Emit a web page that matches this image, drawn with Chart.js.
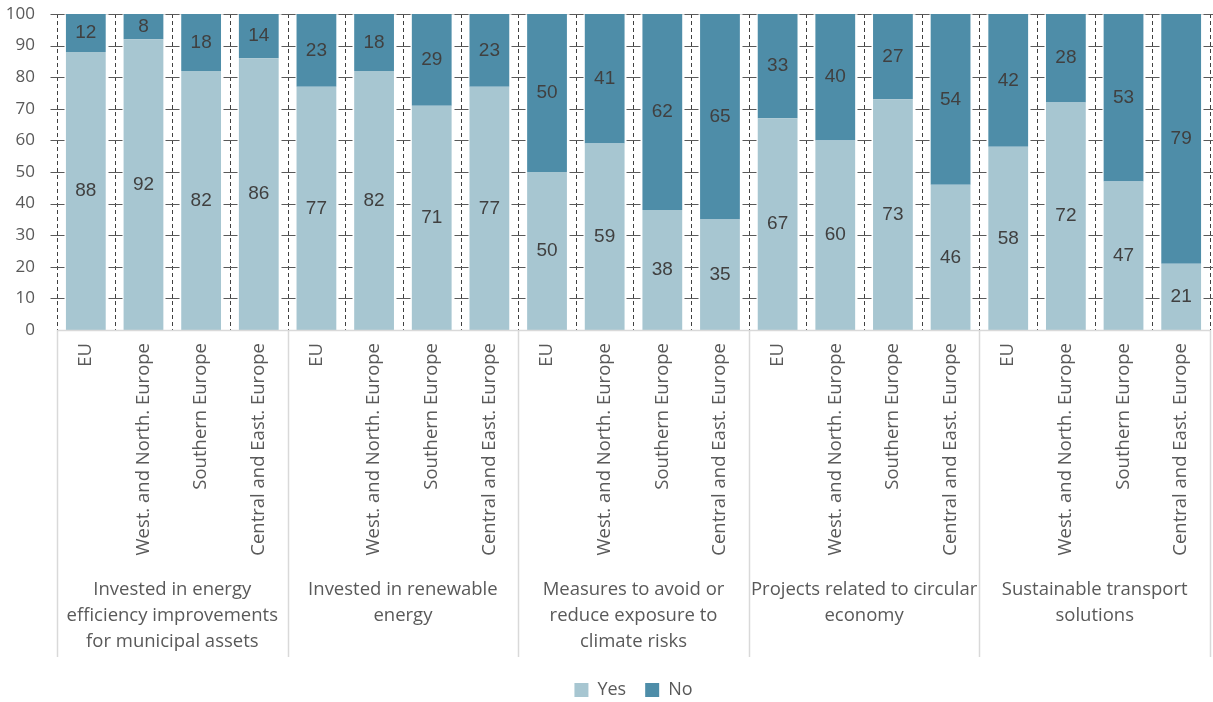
<!DOCTYPE html>
<html lang="en">
<head>
  <meta charset="UTF-8" />
  <title>Municipal climate investments</title>
  <script src="https://cdn.jsdelivr.net/npm/chart.js"></script>
  <style>
    body {
      margin: 0;
      background: #ffffff;
    }

    .wrap {
      width: 1213px;
      height: 702px;
      position: relative;
    }
  </style>
</head>
<body>

<div class="wrap">
  <canvas id="investChart"></canvas>
</div>

<script>
  const groups = [
    ['Invested in energy', 'efficiency improvements', 'for municipal assets'],
    ['Invested in renewable', 'energy'],
    ['Measures to avoid or', 'reduce exposure to', 'climate risks'],
    ['Projects related to circular', 'economy'],
    ['Sustainable transport', 'solutions']
  ];
  const regions = ['EU', 'West. and North. Europe', 'Southern Europe', 'Central and East. Europe'];

  const yesValues = [88, 92, 82, 86, 77, 82, 71, 77, 50, 59, 38, 35, 67, 60, 73, 46, 58, 72, 47, 21];
  const noValues = [12, 8, 18, 14, 23, 18, 29, 23, 50, 41, 62, 65, 33, 40, 27, 54, 42, 28, 53, 79];

  const yTicks = [0, 10, 20, 30, 40, 50, 60, 70, 80, 90, 100];

  const labels = groups.flatMap(() => regions);

  const textColor = '#595959';
  const labelFont = '"Open Sans", sans-serif';
  const groupBandHeight = 327;

  // dashed separators between columns, with short ticks at each y step
  const columnGrid = {
    id: 'columnGrid',
    beforeDatasetsDraw(chart) {
      const { ctx, chartArea, scales: { x, y } } = chart;
      const step = x.getPixelForValue(1) - x.getPixelForValue(0);
      ctx.save();
      ctx.lineWidth = 1;

      ctx.strokeStyle = '#d9d9d9';
      ctx.beginPath();
      ctx.moveTo(chartArea.left, chartArea.top + 0.5);
      ctx.lineTo(chartArea.right, chartArea.top + 0.5);
      ctx.stroke();

      for (let i = 0; i <= labels.length; i++) {
        const bx = Math.round(x.getPixelForValue(0) - step / 2 + i * step) + 0.5;
        ctx.strokeStyle = '#404040';
        ctx.setLineDash([4, 3]);
        ctx.beginPath();
        ctx.moveTo(bx, chartArea.top);
        ctx.lineTo(bx, chartArea.bottom);
        ctx.stroke();

        ctx.setLineDash([]);
        ctx.strokeStyle = '#595959';
        ctx.beginPath();
        yTicks.forEach(v => {
          if (v === 0) return;
          const py = Math.round(y.getPixelForValue(v)) + 0.5;
          ctx.moveTo(bx - 7, py);
          ctx.lineTo(bx + 7, py);
        });
        ctx.stroke();
      }
      ctx.restore();
    },
    afterDraw(chart) {
      const { ctx, chartArea, scales: { x } } = chart;
      const step = x.getPixelForValue(1) - x.getPixelForValue(0);
      const per = regions.length;
      const bandBottom = chartArea.bottom + groupBandHeight;
      ctx.save();

      // axis line and group separators
      ctx.strokeStyle = '#d9d9d9';
      ctx.lineWidth = 1.5;
      ctx.beginPath();
      ctx.moveTo(chartArea.left, chartArea.bottom + 0.5);
      ctx.lineTo(chartArea.right, chartArea.bottom + 0.5);
      for (let g = 0; g <= groups.length; g++) {
        const gx = Math.round(x.getPixelForValue(0) - step / 2 + g * per * step) + 0.5;
        ctx.moveTo(gx, chartArea.bottom);
        ctx.lineTo(gx, bandBottom);
      }
      ctx.stroke();

      // group names under the rotated region labels
      ctx.fillStyle = textColor;
      ctx.font = '18.5px ' + labelFont;
      ctx.textAlign = 'center';
      ctx.textBaseline = 'middle';
      groups.forEach((lines, g) => {
        const cx = (x.getPixelForValue(g * per) + x.getPixelForValue(g * per + per - 1)) / 2;
        lines.forEach((line, k) => {
          ctx.fillText(line, cx, chartArea.bottom + 260 + k * 26);
        });
      });

      // value labels centred in each segment
      ctx.fillStyle = '#404040';
      ctx.font = '19px "Liberation Sans", Arial, sans-serif';
      chart.data.datasets.forEach((ds, di) => {
        chart.getDatasetMeta(di).data.forEach((bar, i) => {
          const cy = (bar.y + bar.base) / 2;
          ctx.fillText(String(ds.data[i]), bar.x, cy);
        });
      });
      ctx.restore();
    }
  };

  const ctx = document.getElementById('investChart').getContext('2d');

  new Chart(ctx, {
    type: 'bar',
    data: {
      labels,
      datasets: [
        {
          label: 'Yes',
          data: yesValues,
          backgroundColor: '#a7c6d1',
          barPercentage: 0.69,
          categoryPercentage: 1
        },
        {
          label: 'No',
          data: noValues,
          backgroundColor: '#4e8da8',
          barPercentage: 0.69,
          categoryPercentage: 1
        }
      ]
    },
    options: {
      responsive: true,
      maintainAspectRatio: false,
      animation: false,
      layout: {
        padding: { top: 14, right: 3, left: 0, bottom: 0 }
      },
      plugins: {
        legend: {
          position: 'bottom',
          fullSize: false,
          maxHeight: 40,
          labels: {
            boxWidth: 14,
            boxHeight: 14,
            padding: 19,
            color: textColor,
            font: { family: labelFont, size: 18 }
          }
        },
        tooltip: { enabled: false }
      },
      scales: {
        x: {
          stacked: true,
          grid: { display: false, drawTicks: false },
          border: { display: false },
          ticks: {
            autoSkip: false,
            minRotation: 90,
            maxRotation: 90,
            padding: 13,
            color: textColor,
            font: { family: labelFont, size: 18.5 }
          },
          afterFit(scale) {
            scale.height = 332;
            scale.paddingLeft = 0;
            scale.paddingRight = 0;
          }
        },
        y: {
          stacked: true,
          min: 0,
          max: 100,
          grid: { display: false, drawTicks: false },
          border: { display: false },
          ticks: {
            stepSize: 10,
            padding: 22,
            color: textColor,
            font: { family: labelFont, size: 17 }
          },
          afterFit(scale) {
            scale.width = 57;
            scale.paddingTop = 0;
            scale.paddingBottom = 0;
          }
        }
      }
    },
    plugins: [columnGrid]
  });
</script>

</body>
</html>
